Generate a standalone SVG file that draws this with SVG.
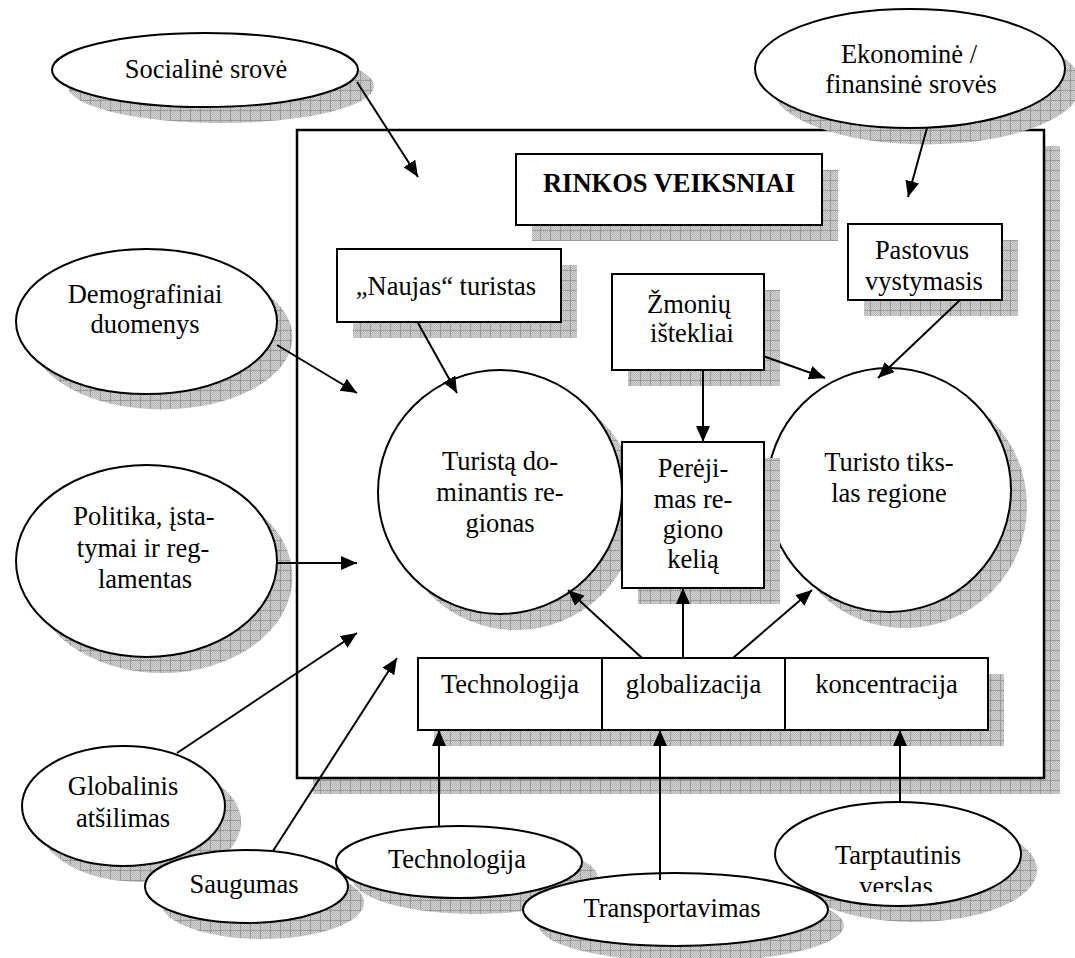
<svg xmlns="http://www.w3.org/2000/svg" width="1075" height="958" viewBox="0 0 1075 958">
  <defs>
    <!-- fine dither used inside the shadow tiles -->
    <pattern id="dither" patternUnits="userSpaceOnUse" width="2" height="2">
      <rect width="2" height="2" fill="#d4d4d4"/>
      <rect width="1" height="1" fill="#b4b4b4"/>
      <rect x="1" y="1" width="1" height="1" fill="#b4b4b4"/>
    </pattern>
    <!-- gridded drop-shadow fill -->
    <pattern id="shadowGrid" patternUnits="userSpaceOnUse" width="10" height="10">
      <rect width="10" height="10" fill="url(#dither)"/>
      <path d="M0,0.5H10M0.5,0V10" stroke="#9a9a9a" stroke-width="1" fill="none"/>
    </pattern>
    <marker id="arrow" markerUnits="userSpaceOnUse" markerWidth="18" markerHeight="16" refX="16" refY="7" orient="auto">
      <path d="M0,0 L16,7 L0,14 z" fill="#000"/>
    </marker>
    <!-- the second line of the business ellipse overflows its text area -->
    <clipPath id="clipVerslas">
      <rect x="770" y="790" width="260" height="102"/>
    </clipPath>
  </defs>

  <style>
    .shadow { fill: url(#shadowGrid); stroke: none; }
    .shape { fill: #fff; stroke: #000; stroke-width: 2; }
    .frame { fill: #fff; stroke: #000; stroke-width: 2.5; }
    .label { font-family: "Liberation Serif", "Times New Roman", serif; font-size: 26.5px; fill: #000; text-anchor: middle; }
    .title { font-weight: bold; }
    .link { stroke: #000; stroke-width: 2; fill: none; }
    .arrowed { marker-end: url(#arrow); }
  </style>

  <!-- outer frame: market factors -->
  <g id="market-frame">
    <rect class="shadow" x="313" y="146" width="747" height="648"/>
    <rect class="frame" x="297" y="130" width="747" height="648"/>
  </g>

  <g id="title-box">
    <rect class="shadow" x="532" y="170" width="306" height="71"/>
    <rect class="shape" x="516" y="154" width="306" height="71"/>
    <text class="label title" x="669" y="192">RINKOS VEIKSNIAI</text>
  </g>

  <g id="new-tourist">
    <rect class="shadow" x="353" y="265" width="224" height="73"/>
    <rect class="shape" x="337" y="249" width="224" height="73"/>
    <text class="label" x="446" y="295">„Naujas“ turistas</text>
  </g>

  <g id="human-resources">
    <rect class="shadow" x="628" y="290" width="152" height="96"/>
    <rect class="shape" x="612" y="274" width="152" height="96"/>
    <text class="label" x="689" y="313">Žmonių</text>
    <text class="label" x="692" y="342">ištekliai</text>
  </g>

  <g id="sustainable-development">
    <rect class="shadow" x="864" y="240" width="154" height="76"/>
    <rect class="shape" x="848" y="224" width="154" height="76"/>
    <text class="label" x="922" y="259">Pastovus</text>
    <text class="label" x="924" y="290">vystymasis</text>
  </g>

  <g id="origin-region">
    <circle class="shadow" cx="516" cy="508" r="122"/>
    <circle class="shape" cx="500" cy="492" r="122"/>
    <text class="label" x="500" y="470">Turistą do-</text>
    <text class="label" x="500" y="501">minantis re-</text>
    <text class="label" x="500" y="532">gionas</text>
  </g>

  <g id="destination-region">
    <circle class="shadow" cx="905" cy="506" r="122"/>
    <circle class="shape" cx="889" cy="490" r="122"/>
    <text class="label" x="889" y="471">Turisto tiks-</text>
    <text class="label" x="889" y="502">las regione</text>
  </g>

  <g id="transit-route">
    <rect class="shadow" x="638" y="458" width="142" height="146"/>
    <rect class="shape" x="622" y="442" width="142" height="146"/>
    <text class="label" x="693" y="477">Perėji-</text>
    <text class="label" x="693" y="508">mas re-</text>
    <text class="label" x="693" y="538">giono</text>
    <text class="label" x="693" y="568">kelią</text>
  </g>

  <g id="factor-bar">
    <rect class="shadow" x="434" y="674" width="570" height="72"/>
    <g id="bar-technology">
      <rect class="shape" x="418" y="658" width="184" height="72"/>
      <text class="label" x="510" y="693">Technologija</text>
    </g>
    <g id="bar-globalization">
      <rect class="shape" x="602" y="658" width="183" height="72"/>
      <text class="label" x="693.5" y="693">globalizacija</text>
    </g>
    <g id="bar-concentration">
      <rect class="shape" x="785" y="658" width="203" height="72"/>
      <text class="label" x="886.5" y="693">koncentracija</text>
    </g>
  </g>

  <!-- external forces -->
  <g id="social-trend">
    <ellipse class="shadow" cx="221" cy="86" rx="153" ry="37"/>
    <ellipse class="shape" cx="205" cy="70" rx="153" ry="37"/>
    <text class="label" x="206" y="78">Socialinė srovė</text>
  </g>

  <g id="economic-trend">
    <ellipse class="shadow" cx="926" cy="85" rx="155" ry="59.5"/>
    <ellipse class="shape" cx="910" cy="68.5" rx="155" ry="59.5"/>
    <text class="label" x="909" y="63">Ekonominė /</text>
    <text class="label" x="911" y="93">finansinė srovės</text>
  </g>

  <g id="demographics">
    <ellipse class="shadow" cx="162" cy="337" rx="130.5" ry="72.5"/>
    <ellipse class="shape" cx="146.5" cy="321.5" rx="130.5" ry="72.5"/>
    <text class="label" x="145" y="303">Demografiniai</text>
    <text class="label" x="145" y="333">duomenys</text>
  </g>

  <g id="policy">
    <ellipse class="shadow" cx="162" cy="577" rx="130.5" ry="96"/>
    <ellipse class="shape" cx="146.5" cy="561" rx="130.5" ry="96"/>
    <text class="label" x="144" y="525">Politika, įsta-</text>
    <text class="label" x="143" y="557">tymai ir reg-</text>
    <text class="label" x="145" y="588">lamentas</text>
  </g>

  <g id="global-warming">
    <ellipse class="shadow" cx="139.5" cy="822" rx="101.5" ry="60"/>
    <ellipse class="shape" cx="123.5" cy="806" rx="101.5" ry="60"/>
    <text class="label" x="123" y="795">Globalinis</text>
    <text class="label" x="123" y="827">atšilimas</text>
  </g>

  <g id="security">
    <ellipse class="shadow" cx="262.5" cy="902.5" rx="101.5" ry="36.5"/>
    <ellipse class="shape" cx="246.5" cy="886.5" rx="101.5" ry="36.5"/>
    <text class="label" x="244" y="893">Saugumas</text>
  </g>

  <g id="technology">
    <ellipse class="shadow" cx="475" cy="878" rx="123" ry="36"/>
    <ellipse class="shape" cx="459" cy="862" rx="123" ry="36"/>
    <text class="label" x="457" y="868">Technologija</text>
  </g>

  <g id="international-business">
    <ellipse class="shadow" cx="914" cy="870" rx="123" ry="52"/>
    <ellipse class="shape" cx="898" cy="854" rx="123" ry="52"/>
    <text class="label" x="898" y="864">Tarptautinis</text>
    <text class="label" x="896" y="895" clip-path="url(#clipVerslas)">verslas</text>
  </g>

  <g id="transportation">
    <ellipse class="shadow" cx="691.5" cy="925.5" rx="152.5" ry="36.5"/>
    <ellipse class="shape" cx="675.5" cy="909.5" rx="152.5" ry="36.5"/>
    <text class="label" x="672" y="917">Transportavimas</text>
  </g>

  <g id="connectors">
    <line class="link arrowed" x1="357" y1="82" x2="418" y2="177"/>
    <line class="link arrowed" x1="927" y1="128" x2="908" y2="197"/>
    <line class="link arrowed" x1="277" y1="345" x2="357" y2="393"/>
    <line class="link arrowed" x1="277" y1="563" x2="357" y2="563"/>
    <line class="link arrowed" x1="177" y1="753" x2="357" y2="633"/>
    <line class="link arrowed" x1="273" y1="851" x2="397" y2="658"/>
    <line class="link arrowed" x1="418" y1="323" x2="457" y2="393"/>
    <line class="link arrowed" x1="703" y1="370" x2="703" y2="442"/>
    <line class="link arrowed" x1="763" y1="356" x2="825" y2="378"/>
    <line class="link arrowed" x1="960" y1="300" x2="878" y2="378"/>
    <line class="link arrowed" x1="642" y1="658" x2="568" y2="590"/>
    <line class="link arrowed" x1="683" y1="658" x2="683" y2="588"/>
    <line class="link arrowed" x1="733" y1="658" x2="812" y2="590"/>
    <line class="link arrowed" x1="439" y1="826" x2="439" y2="730"/>
    <line class="link arrowed" x1="660" y1="880" x2="660" y2="730"/>
    <line class="link arrowed" x1="900" y1="802" x2="900" y2="730"/>
  </g>
</svg>
